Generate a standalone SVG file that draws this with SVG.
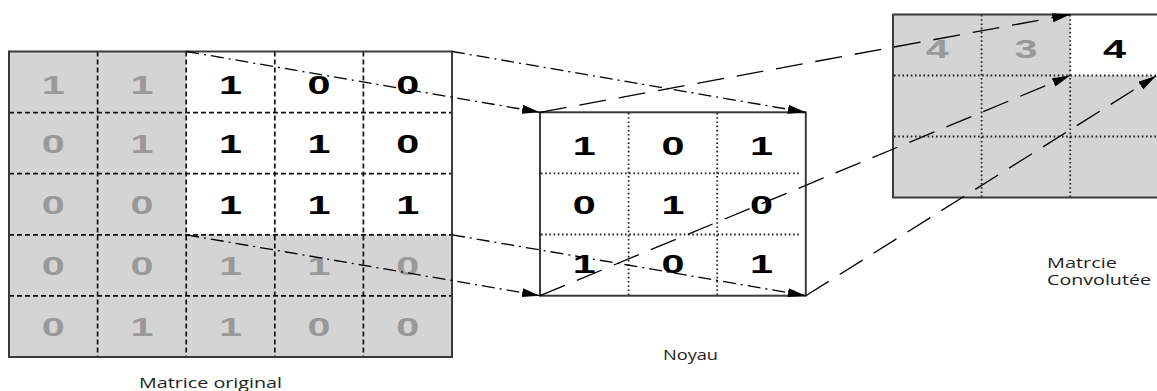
<svg xmlns="http://www.w3.org/2000/svg" width="1157" height="391" viewBox="0 0 1157 391">
<style>
.bg{fill:#d4d4d4}
.wh{fill:#ffffff}
.border{fill:none;stroke:#3a3a3a;stroke-width:2}
.dash{stroke:#111;stroke-width:1.7;stroke-dasharray:5 3;fill:none}
.dot{stroke:#222;stroke-width:1.8;stroke-dasharray:1.6 2.6;fill:none}
.d{font-family:"Liberation Sans",Arial,sans-serif;font-weight:bold;font-size:25px;text-anchor:middle}
.g{fill:#999999}
.k{fill:#000000}
.lbl{font-family:"Open Sans","Liberation Sans",sans-serif;font-size:14.5px;fill:#222}
.dd{stroke:#000;stroke-width:1.3;fill:none;stroke-dasharray:13 5 2 5;marker-end:url(#ah)}
.ds{stroke:#000;stroke-width:1.3;fill:none;stroke-dasharray:27 13;marker-end:url(#ah)}
</style>
<defs>
<marker id="ah" markerUnits="userSpaceOnUse" markerWidth="20" markerHeight="10" refX="18" refY="4.5" orient="auto">
<path d="M0,0 L18,4.5 L0,9 z" fill="#000"/>
</marker>
</defs>
<rect width="1157" height="391" fill="#fff"/>

<g id="matrice-originale">
<rect class="bg" x="9" y="51.5" width="443" height="305.5"/>
<rect class="wh" x="186.2" y="51.5" width="265.8" height="183.3"/>
<path class="dash" d="M97.6,51.5V357 M186.2,51.5V357 M274.8,51.5V357 M363.4,51.5V357 M9,112.6H452 M9,173.7H452 M9,234.8H452 M9,295.9H452"/>
<rect class="border" x="9" y="51.5" width="443" height="305.5"/>
<g>
<text class="d g" x="53.3" y="93.5" textLength="23" lengthAdjust="spacingAndGlyphs">1</text>
<text class="d g" x="141.9" y="93.5" textLength="23" lengthAdjust="spacingAndGlyphs">1</text>
<text class="d k" x="230.5" y="93.5" textLength="23" lengthAdjust="spacingAndGlyphs">1</text>
<text class="d k" x="319.1" y="93.5" textLength="23" lengthAdjust="spacingAndGlyphs">0</text>
<text class="d k" x="407.7" y="93.5" textLength="23" lengthAdjust="spacingAndGlyphs">0</text>
<text class="d g" x="53.3" y="153" textLength="23" lengthAdjust="spacingAndGlyphs">0</text>
<text class="d g" x="141.9" y="153" textLength="23" lengthAdjust="spacingAndGlyphs">1</text>
<text class="d k" x="230.5" y="153" textLength="23" lengthAdjust="spacingAndGlyphs">1</text>
<text class="d k" x="319.1" y="153" textLength="23" lengthAdjust="spacingAndGlyphs">1</text>
<text class="d k" x="407.7" y="153" textLength="23" lengthAdjust="spacingAndGlyphs">0</text>
<text class="d g" x="53.3" y="213.5" textLength="23" lengthAdjust="spacingAndGlyphs">0</text>
<text class="d g" x="141.9" y="213.5" textLength="23" lengthAdjust="spacingAndGlyphs">0</text>
<text class="d k" x="230.5" y="213.5" textLength="23" lengthAdjust="spacingAndGlyphs">1</text>
<text class="d k" x="319.1" y="213.5" textLength="23" lengthAdjust="spacingAndGlyphs">1</text>
<text class="d k" x="407.7" y="213.5" textLength="23" lengthAdjust="spacingAndGlyphs">1</text>
<text class="d g" x="53.3" y="275" textLength="23" lengthAdjust="spacingAndGlyphs">0</text>
<text class="d g" x="141.9" y="275" textLength="23" lengthAdjust="spacingAndGlyphs">0</text>
<text class="d g" x="230.5" y="275" textLength="23" lengthAdjust="spacingAndGlyphs">1</text>
<text class="d g" x="319.1" y="275" textLength="23" lengthAdjust="spacingAndGlyphs">1</text>
<text class="d g" x="407.7" y="275" textLength="23" lengthAdjust="spacingAndGlyphs">0</text>
<text class="d g" x="53.3" y="336" textLength="23" lengthAdjust="spacingAndGlyphs">0</text>
<text class="d g" x="141.9" y="336" textLength="23" lengthAdjust="spacingAndGlyphs">1</text>
<text class="d g" x="230.5" y="336" textLength="23" lengthAdjust="spacingAndGlyphs">1</text>
<text class="d g" x="319.1" y="336" textLength="23" lengthAdjust="spacingAndGlyphs">0</text>
<text class="d g" x="407.7" y="336" textLength="23" lengthAdjust="spacingAndGlyphs">0</text>
</g>
<text class="lbl" x="139" y="388" textLength="143" lengthAdjust="spacingAndGlyphs">Matrice original</text>
</g>

<g id="noyau">
<rect class="wh" x="540" y="112.3" width="265.8" height="183.4"/>
<path class="dot" d="M628.6,113V295 M717.2,113V295 M541,173.4H800 M541,234.5H800"/>
<rect class="border" x="540" y="112.3" width="265.8" height="183.4"/>
<text class="d k" x="584.3" y="155" textLength="23" lengthAdjust="spacingAndGlyphs">1</text>
<text class="d k" x="672.9" y="155" textLength="23" lengthAdjust="spacingAndGlyphs">0</text>
<text class="d k" x="761.5" y="155" textLength="23" lengthAdjust="spacingAndGlyphs">1</text>
<text class="d k" x="584.3" y="214" textLength="23" lengthAdjust="spacingAndGlyphs">0</text>
<text class="d k" x="672.9" y="214" textLength="23" lengthAdjust="spacingAndGlyphs">1</text>
<text class="d k" x="761.5" y="214" textLength="23" lengthAdjust="spacingAndGlyphs">0</text>
<text class="d k" x="584.3" y="273" textLength="23" lengthAdjust="spacingAndGlyphs">1</text>
<text class="d k" x="672.9" y="273" textLength="23" lengthAdjust="spacingAndGlyphs">0</text>
<text class="d k" x="761.5" y="273" textLength="23" lengthAdjust="spacingAndGlyphs">1</text>
<text class="lbl" x="663" y="360" textLength="55" lengthAdjust="spacingAndGlyphs">Noyau</text>
</g>

<g id="matrice-convoluee">
<rect class="bg" x="893" y="14.5" width="266" height="183"/>
<rect class="wh" x="1070.2" y="14.5" width="88.8" height="61"/>
<path class="dot" d="M981.6,15V197 M1070.2,15V197 M894,75.5H1159 M894,136.5H1159"/>
<rect class="border" x="893" y="14.5" width="266" height="183"/>
<text class="d g" x="937.3" y="58" textLength="23" lengthAdjust="spacingAndGlyphs">4</text>
<text class="d g" x="1025.9" y="58" textLength="23" lengthAdjust="spacingAndGlyphs">3</text>
<text class="d k" x="1114.5" y="58" textLength="23" lengthAdjust="spacingAndGlyphs">4</text>
<text class="lbl" x="1047" y="268" textLength="70" lengthAdjust="spacingAndGlyphs">Matrcie</text>
<text class="lbl" x="1047" y="285" textLength="104" lengthAdjust="spacingAndGlyphs">Convolutée</text>
</g>

<g id="connecteurs">
<line class="dd" x1="186.2" y1="51.5" x2="540" y2="112.3"/>
<line class="dd" x1="452" y1="51.5" x2="805.8" y2="112.3"/>
<line class="dd" x1="186.2" y1="234.8" x2="540" y2="295.7"/>
<line class="dd" x1="452" y1="234.8" x2="805.8" y2="295.7"/>
<line class="ds" x1="540" y1="112.3" x2="1070.2" y2="14.5"/>
<line class="ds" x1="540" y1="295.7" x2="1070.2" y2="75.5"/>
<line class="ds" x1="805.8" y1="295.7" x2="1156" y2="76"/>
</g>
</svg>
